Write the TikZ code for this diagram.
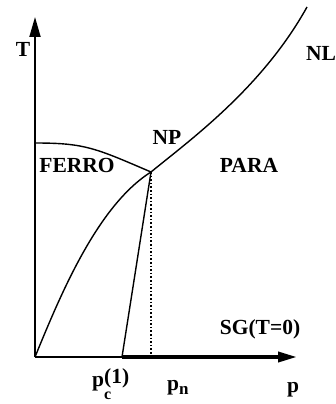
\documentclass[tikz,border=0pt]{standalone}
\usepackage{fontspec}
\setmainfont{Liberation Serif}
\usetikzlibrary{arrows.meta}

\begin{document}
\begin{tikzpicture}[
  x=1pt, y=-1pt,
  lbl/.style={font=\fontsize{21.5}{24}\selectfont\bfseries, inner sep=0pt},
  axis/.style={draw=black, line width=1.8pt},
  phase/.style={draw=black, line width=1.4pt},
  heavy/.style={draw=black, line width=3.6pt},
  guide/.style={draw=black, line width=1.6pt, dotted}
]
  \useasboundingbox (0,0) rectangle (336,404);

  % Axes corners and ends.
  \coordinate (O) at (35,357);
  \coordinate (Ttip) at (35,17);
  \coordinate (ptip) at (297,357);
  \coordinate (pc) at (122,357);
  \coordinate (pn) at (151,357);
  \coordinate (NPpt) at (151,172);
  \coordinate (F0) at (35,143);
  \coordinate (NLend) at (307,7);

  % Axes.
  \draw[axis, -{Triangle[length=20pt, width=11pt]}] (O)--(Ttip);
  \draw[phase] (O)--(pc);
  \draw[heavy, -{Triangle[length=19pt, width=10pt]}] (pc)--(ptip);

  % Phase boundaries.
  \draw[phase] (F0) .. controls (85,143) and (95,148) .. (NPpt);
  \draw[phase] (O) .. controls (60,296) and (97,206) .. (NPpt);
  \draw[phase] (pc)--(NPpt);
  \draw[phase] (NPpt) .. controls (190,140) and (262,88) .. (NLend);
  \draw[guide] (NPpt)--(pn);

  % Labels.
  \node[lbl] (T) at (23,49) {T};
  \node[lbl] (NL) at (321,53) {NL};
  \node[lbl] (NP) at (167,137) {NP};
  \node[lbl] (FERRO) at (77,165) {FERRO};
  \node[lbl] (PARA) at (249,165) {PARA};
  \node[lbl] (SG) at (260,329) {SG(T=0)};
  \node[lbl, anchor=base west] (pclbl) at (92,386)
    {p\rlap{\raisebox{-13pt}{\fontsize{16}{16}\selectfont c}}\raisebox{3pt}{(1)}};
  \node[lbl, anchor=base west] (pnlbl) at (167,390)
    {p\raisebox{-4pt}{\fontsize{17}{17}\selectfont n}};
  \node[lbl, anchor=base west] (plbl) at (287,392) {p};
\end{tikzpicture}
\end{document}
